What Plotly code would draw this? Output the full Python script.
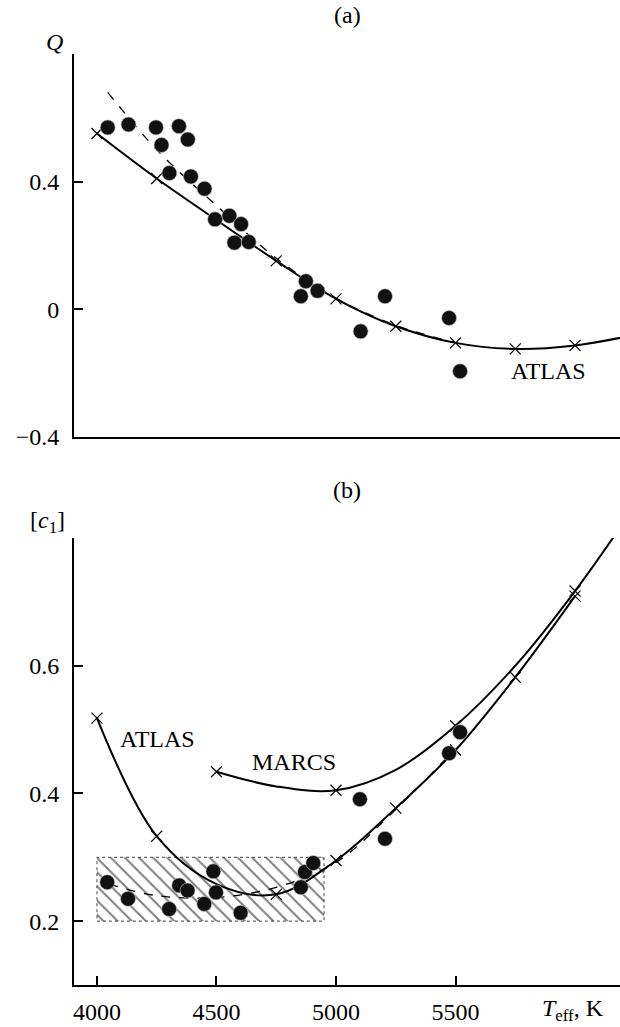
import plotly.graph_objects as go
from plotly.subplots import make_subplots

# ---------------- Panel (a): Q vs Teff ----------------
a_obs_T = [4045, 4132, 4247, 4343, 4270, 4380, 4303, 4393, 4450, 4494, 4554, 4603,
           4575, 4635, 4874, 4853, 4923, 5103, 5205, 5473, 5519]
a_obs_Q = [0.570, 0.579, 0.570, 0.574, 0.515, 0.532, 0.427, 0.416, 0.378, 0.282, 0.293,
           0.267, 0.209, 0.211, 0.088, 0.041, 0.058, -0.069, 0.041, -0.027, -0.194]

a_atlas_T = [4000, 4250, 4500, 4750, 5000, 5250, 5500, 5750, 6000, 6250]
a_atlas_Q = [0.551, 0.410, 0.280, 0.152, 0.033, -0.053, -0.105, -0.124, -0.113, -0.080]
a_cross_T = [4000, 4250, 4750, 5000, 5250, 5500, 5750, 6000]
a_cross_Q = [0.551, 0.410, 0.152, 0.033, -0.053, -0.105, -0.124, -0.113]

a_fit_T = [4045, 4250, 4500, 4750, 5000, 5250, 5500]
a_fit_Q = [0.680, 0.500, 0.325, 0.160, 0.035, -0.050, -0.105]

# ---------------- Panel (b): [c1] vs Teff ----------------
b_obs_T = [4043, 4130, 4302, 4344, 4379, 4449, 4487, 4498, 4601, 4853, 4870, 4905,
           5100, 5205, 5473, 5519]
b_obs_c = [0.261, 0.235, 0.219, 0.256, 0.248, 0.227, 0.278, 0.245, 0.213, 0.253,
           0.277, 0.291, 0.391, 0.329, 0.463, 0.496]

b_atlas_T = [4000, 4250, 4500, 4750, 5000, 5250, 5500, 5750, 6000]
b_atlas_c = [0.518, 0.333, 0.258, 0.242, 0.295, 0.377, 0.468, 0.582, 0.709]
b_atlas_cross_T = [4000, 4250, 4750, 5000, 5250, 5500, 5750, 6000]
b_atlas_cross_c = [0.518, 0.333, 0.242, 0.295, 0.377, 0.468, 0.582, 0.709]

b_marcs_T = [4500, 4750, 5000, 5250, 5500, 5750, 6000, 6250]
b_marcs_c = [0.434, 0.411, 0.405, 0.437, 0.506, 0.600, 0.717, 0.850]
b_marcs_cross_T = [4500, 5000, 5500, 6000]
b_marcs_cross_c = [0.434, 0.405, 0.506, 0.717]

b_fit_T = [4050, 4250, 4500, 4750, 5000, 5250, 5500]
b_fit_c = [0.258, 0.240, 0.237, 0.253, 0.292, 0.375, 0.470]

box_T = [4000, 4950]
box_c = [0.2, 0.3]

x_ticks = [4000, 4500, 5000, 5500]
x_range = [3904, 6188]

FONT = "Liberation Serif"
TICK_SIZE = 24
LABEL_SIZE = 24

fig = make_subplots(rows=2, cols=1, vertical_spacing=0.0)

cross_marker = dict(symbol="x-thin-open", size=11, color="black",
                    line=dict(color="black", width=1.2))
dot_marker = dict(symbol="circle", size=15, color="#111",
                  line=dict(color="#cccccc", width=0.6))

# ---- panel (a) traces
fig.add_trace(go.Scatter(x=a_fit_T, y=a_fit_Q, mode="lines", line_shape="spline",
                         line=dict(color="black", width=1.3, dash="dash")), row=1, col=1)
fig.add_trace(go.Scatter(x=a_atlas_T, y=a_atlas_Q, mode="lines", line_shape="spline",
                         line=dict(color="black", width=2)), row=1, col=1)
fig.add_trace(go.Scatter(x=a_cross_T, y=a_cross_Q, mode="markers",
                         marker=cross_marker), row=1, col=1)
fig.add_trace(go.Scatter(x=a_obs_T, y=a_obs_Q, mode="markers",
                         marker=dot_marker), row=1, col=1)

# ---- panel (b) traces
fig.add_trace(go.Scatter(x=[box_T[0], box_T[1], box_T[1], box_T[0], box_T[0]],
                         y=[box_c[0], box_c[0], box_c[1], box_c[1], box_c[0]],
                         mode="lines", fill="toself", fillcolor="white",
                         fillpattern=dict(shape="\\", fgcolor="black", bgcolor="white",
                                          size=10, solidity=0.2),
                         line=dict(color="#444", width=1, dash="dot")), row=2, col=1)
fig.add_trace(go.Scatter(x=b_fit_T, y=b_fit_c, mode="lines", line_shape="spline",
                         line=dict(color="black", width=1.3, dash="dash")), row=2, col=1)
fig.add_trace(go.Scatter(x=b_atlas_T, y=b_atlas_c, mode="lines", line_shape="spline",
                         line=dict(color="black", width=2)), row=2, col=1)
fig.add_trace(go.Scatter(x=b_marcs_T, y=b_marcs_c, mode="lines", line_shape="spline",
                         line=dict(color="black", width=2)), row=2, col=1)
fig.add_trace(go.Scatter(x=b_atlas_cross_T + b_marcs_cross_T,
                         y=b_atlas_cross_c + b_marcs_cross_c, mode="markers",
                         marker=cross_marker), row=2, col=1)
fig.add_trace(go.Scatter(x=b_obs_T, y=b_obs_c, mode="markers",
                         marker=dot_marker), row=2, col=1)

axis_common = dict(showline=True, linecolor="black", linewidth=2, showgrid=False,
                   zeroline=False, ticks="inside", ticklen=9, tickwidth=2,
                   tickcolor="black",
                   tickfont=dict(family=FONT, size=TICK_SIZE, color="black"))

fig.update_xaxes(axis_common)
fig.update_yaxes(axis_common)

fig.update_xaxes(range=x_range, showticklabels=False, ticks="", row=1, col=1)
fig.update_xaxes(range=x_range, tickvals=x_ticks, ticklabelstandoff=4, row=2, col=1)
fig.update_yaxes(range=[-0.4, 0.8], tickvals=[-0.4, 0, 0.4],
                 ticktext=["\u22120.4", "0", "0.4"], ticklabelstandoff=8,
                 domain=[0.5886, 1.0], row=1, col=1)
fig.update_yaxes(range=[0.1, 0.8], tickvals=[0.2, 0.4, 0.6],
                 ticktext=["0.2", "0.4", "0.6"], ticklabelstandoff=8,
                 domain=[0.0, 0.4801], row=2, col=1)

lab = dict(family=FONT, size=LABEL_SIZE, color="black")


def ann(text, x, y, xref="paper", yref="paper"):
    return dict(text=text, x=x, y=y, xref=xref, yref=yref, showarrow=False,
                xanchor="center", yanchor="middle", font=lab)


annotations = [
    ann("(a)", 0.5, 1.042),
    ann("(b)", 0.5, 0.532),
    ann("<i>Q</i>", -0.035, 1.013),
    ann("[<i>c</i><sub>1</sub>]", -0.048, 0.497),
    ann("<i>T</i><sub>eff</sub>, K", 0.914, -0.027),
    ann("ATLAS", 5887, -0.194, "x", "y"),
    ann("ATLAS", 4253, 0.486, "x2", "y2"),
    ann("MARCS", 4824, 0.45, "x2", "y2"),
]

fig.update_layout(width=620, height=1027, margin=dict(l=74, r=0, t=54, b=42),
                  plot_bgcolor="white", paper_bgcolor="white", showlegend=False,
                  annotations=annotations)

fig.write_html("out.html", config={"displayModeBar": False},
               post_script="document.body.style.margin='0';document.body.style.overflow='hidden';")
